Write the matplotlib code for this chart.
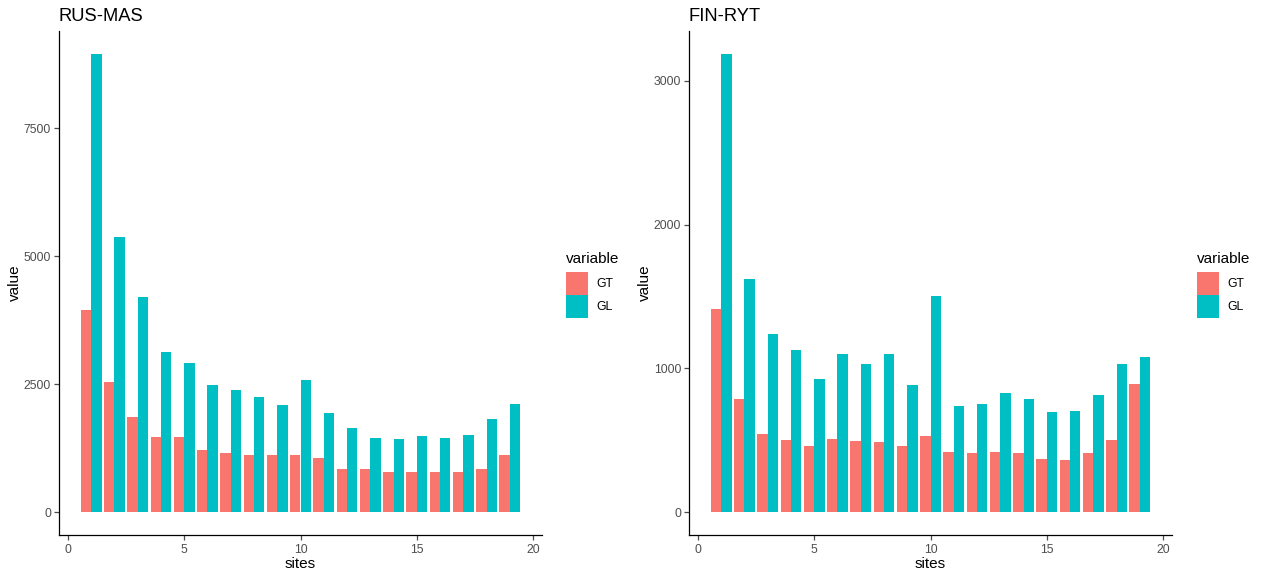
import matplotlib.pyplot as plt
import numpy as np
from matplotlib.patches import Patch

plt.rcParams['font.family'] = ['Liberation Sans', 'DejaVu Sans']

sites = np.arange(1, 20)

# RUS-MAS
rus_gt = [3944, 2538, 1853, 1464, 1464, 1204, 1146, 1110, 1110, 1125,
          1053, 851, 836, 779, 779, 779, 779, 851, 1110]
rus_gl = [8955, 5371, 4196, 3122, 2906, 2480, 2379, 2242, 2084, 2574,
          1932, 1637, 1442, 1420, 1478, 1442, 1500, 1810, 2105]

# FIN-RYT
fin_gt = [1411, 790, 541, 498, 457, 505, 493, 485, 457, 526,
          416, 408, 416, 408, 367, 359, 408, 498, 888]
fin_gl = [3187, 1619, 1237, 1126, 924, 1098, 1029, 1098, 883, 1501,
          736, 749, 826, 790, 693, 700, 811, 1029, 1078]

col_gt = '#F8766D'
col_gl = '#00BFC4'
grey = '#4D4D4D'

W, H = 1262, 578
fig = plt.figure(figsize=(W / 100, H / 100), dpi=100)


def panel(left_px, title, gt, gl, yticks, legend_x):
    ax = fig.add_axes([left_px / W, 43 / H, 483.4 / W, 504 / H])
    w = 0.45
    ax.bar(sites - w / 2, gt, width=w, color=col_gt, linewidth=0)
    ax.bar(sites + w / 2, gl, width=w, color=col_gl, linewidth=0)
    ax.set_xlim(0.55 - 0.945, 19.45 + 0.945)
    ymax = max(max(gt), max(gl))
    ax.set_ylim(-0.05 * ymax, 1.05 * ymax)
    ax.set_xticks([0, 5, 10, 15, 20])
    ax.set_yticks(yticks)
    for s in ['top', 'right']:
        ax.spines[s].set_visible(False)
    for s in ['left', 'bottom']:
        ax.spines[s].set_linewidth(0.9)
        ax.spines[s].set_color('black')
    ax.tick_params(length=3.8, width=0.9, color=grey, labelcolor=grey,
                   labelsize=8.8, pad=2.5)
    ax.tick_params(axis='y', pad=1.8)
    ax.set_xlabel('sites', fontsize=11, labelpad=1)
    ax.set_ylabel('value', fontsize=11, labelpad=1)
    ax.set_title(title, loc='left', fontsize=13.2, pad=7.5)
    handles = [Patch(facecolor=col_gt, linewidth=0, label='GT'),
               Patch(facecolor=col_gl, linewidth=0, label='GL')]
    leg = fig.legend(handles=handles, title='variable', loc='upper left',
                     bbox_to_anchor=(legend_x / W, 1 - 251.5 / H),
                     frameon=False, fontsize=8.8, title_fontsize=11,
                     handlelength=1.8, handleheight=2.4, labelspacing=0.08,
                     handletextpad=0.65, borderpad=0, borderaxespad=0)
    leg._legend_box.align = 'left'
    leg._legend_box.sep = 5
    return ax


panel(58.8, 'RUS-MAS', rus_gt, rus_gl, [0, 2500, 5000, 7500], 566)
panel(688.8, 'FIN-RYT', fin_gt, fin_gl, [0, 1000, 2000, 3000], 1197)

fig.savefig('out.png', dpi=100)
